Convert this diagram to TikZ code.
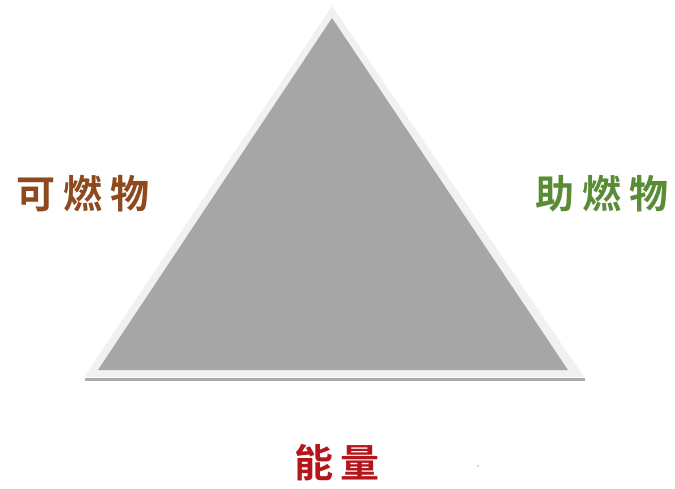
\documentclass[tikz,border=0pt]{standalone}
\usepackage{fontspec}
\newfontfamily\cjk{Noto Sans CJK SC}[BoldFont={Noto Sans CJK SC Bold}]
\definecolor{triGray}{HTML}{A6A6A6}
\definecolor{rimGray}{HTML}{F1F1F1}
\definecolor{baseGray}{HTML}{ACACAC}
\definecolor{brownT}{HTML}{8E4A1E}
\definecolor{greenT}{HTML}{5A8C36}
\definecolor{redT}{HTML}{B4161C}
\tikzset{
  lbl/.style={font=\cjk\bfseries\fontsize{39}{42}\selectfont, inner sep=0pt},
}
\begin{document}
\begin{tikzpicture}[x=1pt,y=-1pt]
\useasboundingbox (0,0) rectangle (675,488);
% outer light rim
\coordinate (ra) at (332,6);
\coordinate (rl) at (84,377);
\coordinate (rr) at (584,377);
\fill[rimGray] (ra) -- (rl) -- (rr) -- cycle;
% gray triangle
\coordinate (ta) at (332,18);
\coordinate (tl) at (98,370);
\coordinate (tr) at (568,370);
\fill[triGray] (ta) -- (tl) -- (tr) -- cycle;
% base line
\coordinate (bl) at (85,379.5);
\coordinate (br) at (585,379.5);
\draw[baseGray, line width=3pt] (bl) -- (br);
% labels
\node[lbl, text=brownT] (fuel) at (83,194) {可\hspace{8pt}燃\hspace{8pt}物};
\node[lbl, text=greenT] (oxid) at (602,194) {助\hspace{8pt}燃\hspace{8pt}物};
\node[lbl, text=redT] (energy) at (337,463) {能\hspace{8pt}量};
\fill[gray!70] (478,466) circle (0.8);
\end{tikzpicture}
\end{document}
